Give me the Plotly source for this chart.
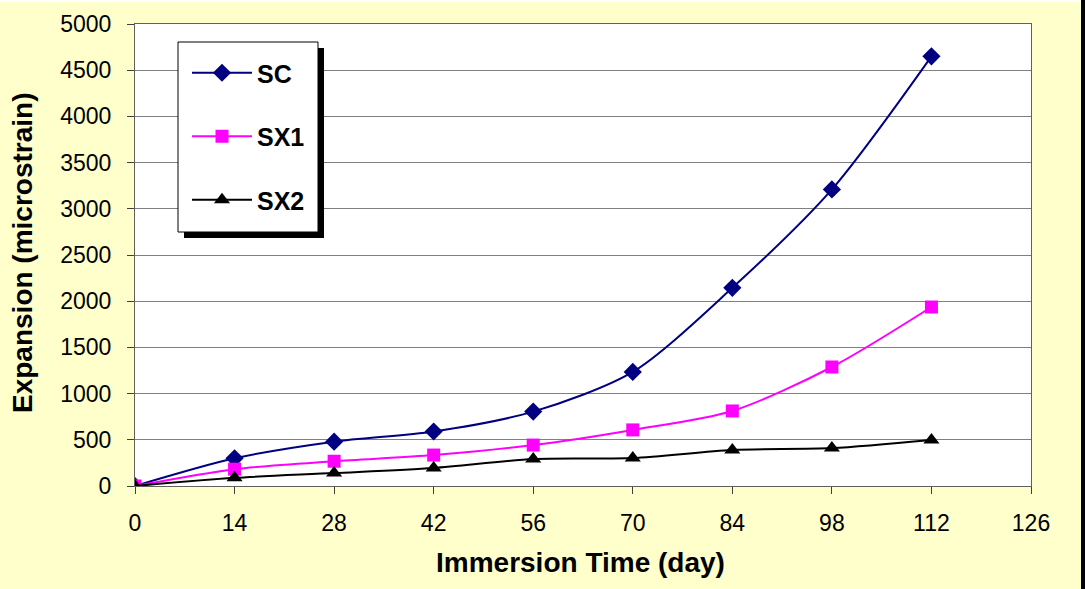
import plotly.graph_objects as go

days = [0, 14, 28, 42, 56, 70, 84, 98, 112]
sc = [0, 300, 480, 590, 805, 1235, 2145, 3210, 4650]
sx1 = [0, 182, 268, 335, 443, 607, 812, 1288, 1937]
sx2 = [0, 88, 140, 196, 292, 303, 390, 410, 498]
x_ticks = [0, 14, 28, 42, 56, 70, 84, 98, 112, 126]
y_ticks = [0, 500, 1000, 1500, 2000, 2500, 3000, 3500, 4000, 4500, 5000]

W, H = 1085, 589
L, R, T, B = 135, 54, 24, 103
pw, ph = W - L - R, H - T - B

def px(x):
    return (x - L) / pw

def py(y):
    return (H - B - y) / ph

fig = go.Figure()
fig.add_trace(go.Scatter(x=days, y=sc, name="SC", mode="lines+markers",
                         line=dict(color="#000080", width=2, shape="spline", smoothing=0.8),
                         marker=dict(symbol="diamond", size=14, color="#000080"),
                         legendgroup="a"))
fig.add_trace(go.Scatter(x=days, y=sx1, name="SX1", mode="lines+markers",
                         line=dict(color="#FF00FF", width=2, shape="spline", smoothing=0.8),
                         marker=dict(symbol="square", size=13, color="#FF00FF"),
                         legendgroup="b"))
fig.add_trace(go.Scatter(x=days, y=sx2, name="SX2", mode="lines+markers",
                         line=dict(color="#000000", width=2, shape="spline", smoothing=0.8),
                         marker=dict(symbol="triangle-up", size=14, color="#000000"),
                         legendgroup="c"))

font = "Liberation Sans, Arial, sans-serif"

fig.update_layout(
    width=W, height=H,
    margin=dict(l=L, r=R, t=T, b=B),
    paper_bgcolor="#FFFFCC",
    plot_bgcolor="#FFFFFF",
    font=dict(family=font, size=23, color="#000000"),
    showlegend=True,
    legend=dict(
        x=px(187), y=py(50), xanchor="left", yanchor="top",
        bgcolor="rgba(0,0,0,0)", borderwidth=0,
        font=dict(family=font, size=25, color="#000000", weight="bold"),
        tracegroupgap=28, itemwidth=60,
    ),
    xaxis=dict(
        range=[0, 126], tickvals=x_ticks, ticktext=[str(v) for v in x_ticks],
        showgrid=False, zeroline=False,
        showline=True, linecolor="#606060", linewidth=1, mirror=True,
        ticks="outside", ticklen=7, tickcolor="#404040",
        ticklabelstandoff=9,
        fixedrange=True,
    ),
    yaxis=dict(
        range=[0, 5000], tickvals=y_ticks,
        showgrid=True, gridcolor="#808080", gridwidth=1, zeroline=False,
        showline=True, linecolor="#606060", linewidth=1, mirror=True,
        ticks="outside", ticklen=7, tickcolor="#404040",
        ticklabelstandoff=11,
        fixedrange=True,
    ),
    annotations=[
        dict(text="<b>Immersion Time (day)</b>", xref="paper", yref="paper",
             x=px(580), y=py(562), xanchor="center", yanchor="middle",
             showarrow=False, font=dict(size=28)),
        dict(text="<b>Expansion (microstrain)</b>", xref="paper", yref="paper",
             x=px(22), y=py(253), xanchor="center", yanchor="middle",
             textangle=-90, showarrow=False, font=dict(size=28)),
    ],
    shapes=[
        # legend shadow
        dict(type="rect", xref="paper", yref="paper",
             x0=px(184), x1=px(324), y0=py(238), y1=py(48),
             fillcolor="#000000", line=dict(width=0), layer="above"),
        # legend box
        dict(type="rect", xref="paper", yref="paper",
             x0=px(178), x1=px(318), y0=py(232), y1=py(42),
             fillcolor="#FFFFFF", line=dict(color="#000000", width=1), layer="above"),
        # right-edge dark strip of the chart area
        dict(type="rect", xref="paper", yref="paper",
             x0=px(1081), x1=px(1086), y0=py(H + 2), y1=py(-2),
             fillcolor="#000000", line=dict(width=0), layer="above"),
        # thin white strip at the very top
        dict(type="rect", xref="paper", yref="paper",
             x0=px(-2), x1=px(1081), y0=py(2), y1=py(-2),
             fillcolor="#FFFFFF", line=dict(width=0), layer="above"),
    ],
)

fig.write_html("out.html", config=dict(displayModeBar=False),
               post_script="document.body.style.margin='0';document.body.style.overflow='hidden';")
